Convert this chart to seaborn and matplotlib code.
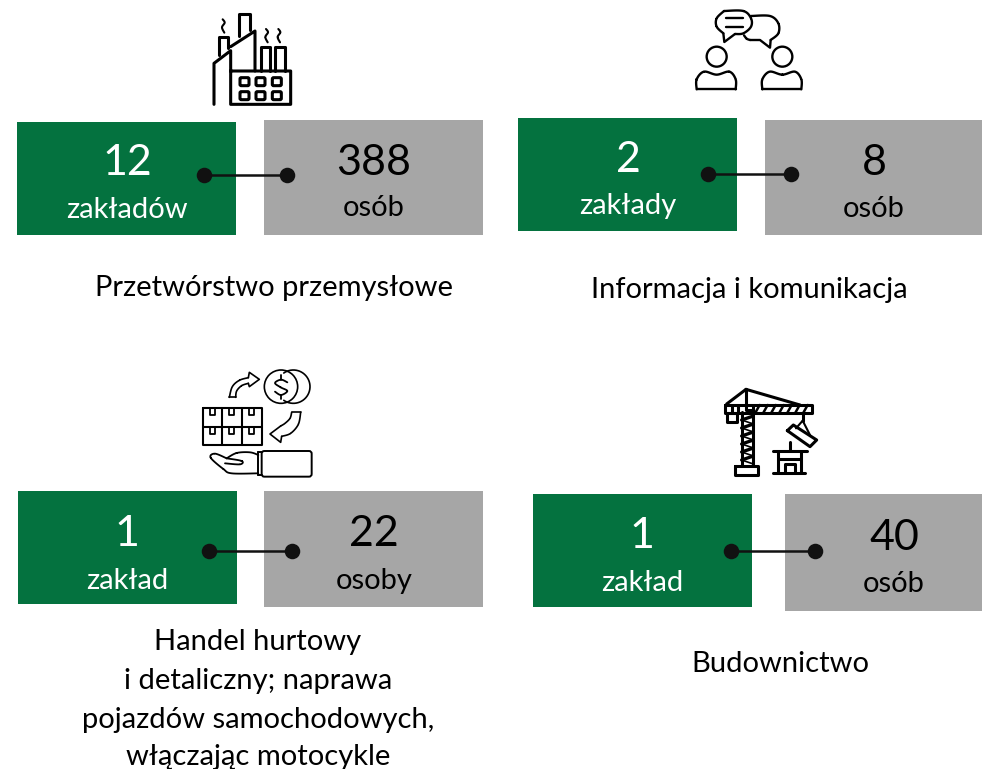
import numpy as np
import pandas as pd
import matplotlib
matplotlib.use("Agg")
import matplotlib.pyplot as plt
from matplotlib.patches import Rectangle, Circle, FancyBboxPatch
import seaborn as sns

# ---- values ----
plant_counts = ["12", "2", "1", "1"]
plant_units = ["zakładów", "zakłady", "zakład", "zakład"]
people_counts = ["388", "8", "22", "40"]
people_units = ["osób", "osób", "osoby", "osób"]
captions = [["Przetwórstwo przemysłowe"],
            ["Informacja i komunikacja"],
            ["Handel hurtowy", "i detaliczny; naprawa", "pojazdów samochodowych,", "włączając motocykle"],
            ["Budownictwo"]]

# ---- layout (pixels, origin top-left) ----
GREEN, GREY, INK = "#04723F", "#A6A6A6", "#000000"
green_boxes = [(17, 122, 236, 235), (518, 118, 737, 231), (18, 491, 237, 604), (533, 494, 752, 607)]
grey_boxes = [(264, 120, 483, 235), (765, 120, 982, 235), (264, 491, 483, 607), (785, 494, 982, 611)]
dot_y = [175, 174, 551, 551]
dot_x0 = [204, 708, 209, 731]
dot_x1 = [287, 791, 292, 815]
green_cx = [127, 628, 127, 642]
grey_cx = [374, 874, 374, 894]
num_y = [[163, 163], [160, 163], [534, 534], [536, 538]]
unit_y = [[210, 208], [206, 209], [581, 581], [583, 584]]
cap_cx = [274, 749, 258, 780]
cap_y = [[288], [290], [642, 681, 720, 757], [664]]

W, H = 982, 769
sns.set_theme(style="white")
plt.rcParams["font.family"] = ["Lato", "DejaVu Sans"]
fig = plt.figure(figsize=(W / 100, H / 100), dpi=100)
ax = fig.add_axes([0, 0, 1, 1])

for (x0, y0, x1, y1) in green_boxes:
    ax.add_patch(Rectangle((x0, y0), x1 - x0, y1 - y0, fc=GREEN, ec="none", zorder=1))
for (x0, y0, x1, y1) in grey_boxes:
    ax.add_patch(Rectangle((x0, y0), x1 - x0, y1 - y0, fc=GREY, ec="none", zorder=1))

dots = pd.DataFrame({
    "x": dot_x0 + dot_x1,
    "y": dot_y + dot_y,
    "panel": list(range(4)) * 2,
})
sns.lineplot(data=dots, x="x", y="y", units="panel", estimator=None, color="#111111",
             lw=1.8, ax=ax, zorder=2, legend=False)
sns.scatterplot(data=dots, x="x", y="y", color="#111111", s=125, linewidth=0, ax=ax,
                zorder=3, legend=False)
ax.axis("off")

NUM, UNIT, CAP = 31, 21, 21
for i in range(4):
    ax.text(green_cx[i], num_y[i][0], plant_counts[i], color="white", fontsize=NUM, ha="center", va="center", zorder=4)
    ax.text(green_cx[i], unit_y[i][0], plant_units[i], color="white", fontsize=UNIT, ha="center", va="center", zorder=4)
    ax.text(grey_cx[i], num_y[i][1], people_counts[i], color=INK, fontsize=NUM, ha="center", va="center", zorder=4)
    ax.text(grey_cx[i], unit_y[i][1], people_units[i], color=INK, fontsize=UNIT, ha="center", va="center", zorder=4)
    for line, y in zip(captions[i], cap_y[i]):
        ax.text(cap_cx[i], y, line, color=INK, fontsize=CAP, ha="center", va="center", zorder=4)


# ---- icons: coordinates given in a 3x local frame ----
class Icon:
    def __init__(self, ox, oy, lw):
        self.ox, self.oy, self.lw = ox, oy, lw

    def P(self, pts):
        a = np.asarray(pts, float) / 3
        return a + [self.ox, self.oy]

    def line(self, pts, lw=None, close=False):
        a = self.P(pts)
        if close:
            a = np.vstack([a, a[0]])
        ax.plot(a[:, 0], a[:, 1], color="black", lw=lw or self.lw, solid_capstyle="round",
                solid_joinstyle="round", zorder=5)

    def smooth(self, pts, lw=None):
        a = self.P(pts)
        a = np.vstack([a[0], a, a[-1]])
        out = []
        for i in range(1, len(a) - 2):
            for t in np.linspace(0, 1, 12):
                p0, p1, p2, p3 = a[i - 1], a[i], a[i + 1], a[i + 2]
                out.append(0.5 * (2 * p1 + (p2 - p0) * t + (2 * p0 - 5 * p1 + 4 * p2 - p3) * t ** 2
                                  + (3 * p1 - p0 - 3 * p2 + p3) * t ** 3))
        out = np.array(out)
        ax.plot(out[:, 0], out[:, 1], color="black", lw=lw or self.lw, solid_capstyle="round", zorder=5)

    def rect(self, x0, y0, x1, y1, lw=None):
        self.line([(x0, y0), (x1, y0), (x1, y1), (x0, y1)], lw=lw, close=True)

    def rrect(self, x0, y0, x1, y1, r, lw=None, fc="none"):
        (a, b), (c, d) = self.P([(x0, y0), (x1, y1)])
        r /= 3
        ax.add_patch(FancyBboxPatch((a + r, b + r), c - a - 2 * r, d - b - 2 * r,
                                    boxstyle=f"round,pad={r},rounding_size={r}",
                                    fc=fc, ec="black", lw=lw or self.lw, zorder=5))

    def circle(self, cx, cy, r, lw=None, fc="none"):
        c = self.P([(cx, cy)])[0]
        ax.add_patch(Circle(c, r / 3, fc=fc, ec="black", lw=lw or self.lw, zorder=5))


# factory
f = Icon(200, 5, 2.2)
f.line([(42, 298), (42, 175), (92, 137), (92, 298), (272, 298), (272, 198), (92, 198)])
f.line([(92, 125), (165, 78), (165, 198)])
f.line([(58, 150), (58, 97), (85, 97), (85, 128)])
f.line([(118, 92), (118, 28), (150, 28), (150, 75)])
f.line([(183, 198), (183, 125), (211, 125), (211, 198)])
f.line([(225, 198), (225, 125), (255, 125), (255, 198)])
for wx in (120, 168, 217):
    for wy in (218, 260):
        f.rrect(wx, wy, wx + 27, wy + 24, 4, lw=2.2)
for sx, sy in ((70, 43), (200, 72), (237, 72)):
    f.smooth([(sx - 2, sy), (sx + 4, sy + 10), (sx - 4, sy + 24), (sx + 3, sy + 40)], lw=1.5)

# people
p = Icon(680, 0, 1.7)
p.smooth([(132, 33), (190, 33), (213, 55), (213, 80), (190, 100), (165, 102)])
p.smooth([(130, 100), (110, 80), (110, 55), (132, 33)])
p.line([(130, 100), (133, 126), (165, 102)])
p.line([(138, 55), (188, 55)])
p.line([(138, 82), (188, 82)])
p.smooth([(213, 48), (270, 48), (295, 70), (295, 100), (272, 120)])
p.line([(272, 120), (270, 143), (240, 120), (210, 120)])
p.smooth([(210, 120), (200, 116), (192, 106)])
for dx in (0, 197):
    p.circle(110 + dx, 170, 30)
    p.smooth([(50 + dx, 268), (50 + dx, 238), (72 + dx, 215), (110 + dx, 224), (148 + dx, 215), (167 + dx, 238), (167 + dx, 268)])
    p.line([(50 + dx, 268), (167 + dx, 268)])

# trade
t = Icon(190, 365, 1.2)
t.circle(273, 65, 50)
ang = np.radians(np.linspace(-125, 125, 40))
t.line(np.c_[310 + 50 * np.cos(ang), 65 + 50 * np.sin(ang)])
t.smooth([(292, 52), (273, 44), (255, 54), (272, 67), (292, 78), (273, 90), (255, 80)], lw=1.3)
t.line([(273, 30), (273, 44)], lw=1.3)
t.line([(273, 90), (273, 102)], lw=1.3)
t.rect(38, 130, 215, 240, lw=1.5)
t.line([(38, 187), (215, 187)], lw=1.5)
t.line([(97, 130), (97, 240)], lw=1.5)
t.line([(157, 130), (157, 240)], lw=1.5)
for bx in (60, 118, 178):
    for by in (130, 187):
        t.line([(bx, by), (bx, by + 21), (bx + 15, by + 21), (bx + 15, by)], lw=1.3)
t.smooth([(118, 97), (127, 65), (148, 46), (175, 38)])
t.line([(175, 38), (178, 22), (208, 43), (178, 65), (175, 55)])
t.smooth([(175, 55), (155, 62), (140, 78), (137, 97)])
t.line([(118, 97), (137, 97)])
t.smooth([(305, 142), (300, 160), (285, 175), (272, 183)])
t.line([(272, 183), (240, 207), (272, 232), (275, 214)])
t.smooth([(275, 214), (302, 205), (325, 178), (332, 142)])
t.line([(305, 142), (332, 142)])
t.rrect(215, 258, 365, 335, 8, lw=1.4)
t.line([(205, 262), (215, 262)], lw=1.4)
t.line([(205, 330), (215, 330)], lw=1.4)
t.line([(205, 262), (205, 330)], lw=1.4)
t.smooth([(205, 270), (180, 262), (140, 264), (110, 280)], lw=1.3)
t.smooth([(110, 280), (75, 266), (62, 278), (100, 312), (125, 325), (205, 325)], lw=1.3)
t.smooth([(110, 280), (155, 288), (150, 298), (105, 295)], lw=1.3)

# crane
c = Icon(710, 380, 2.2)
c.line([(108, 28), (50, 72)])
c.line([(108, 28), (270, 75)])
c.line([(108, 28), (108, 75)])
c.rect(45, 75, 305, 100)
c.line([(65, 75), (65, 100)])
c.line([(85, 75), (85, 100)])
c.line([(130, 75), (130, 100)])
for zx in range(135, 300, 24):
    c.line([(zx, 100), (zx + 14, 75)], lw=1.8)
c.line([(108, 75), (108, 90), (125, 90)])
c.rect(50, 100, 80, 125)
c.line([(95, 95), (95, 257)])
c.line([(130, 100), (130, 257)])
for zy in range(108, 248, 24):
    c.line([(95, zy + 12), (130, zy)], lw=2.4)
    c.line([(95, zy + 12), (130, zy + 24)], lw=1.2)
c.rect(75, 257, 143, 285)
c.line([(278, 100), (278, 122)])
c.line([(278, 122), (258, 145)], lw=1.5)
c.line([(278, 122), (300, 165)], lw=1.5)
c.line([(232, 152), (250, 135), (320, 180), (300, 200)], close=True)
c.line([(190, 212), (290, 212)])
c.line([(205, 212), (205, 280)])
c.line([(272, 212), (272, 280)])
c.line([(240, 185), (240, 212)])
c.line([(205, 238), (272, 238)])
c.line([(190, 280), (285, 280)])
c.line([(225, 280), (225, 252), (255, 252), (255, 280)])

ax.set_xlim(0, W)
ax.set_ylim(H, 0)
fig.savefig("out.png", dpi=100, facecolor="white")
